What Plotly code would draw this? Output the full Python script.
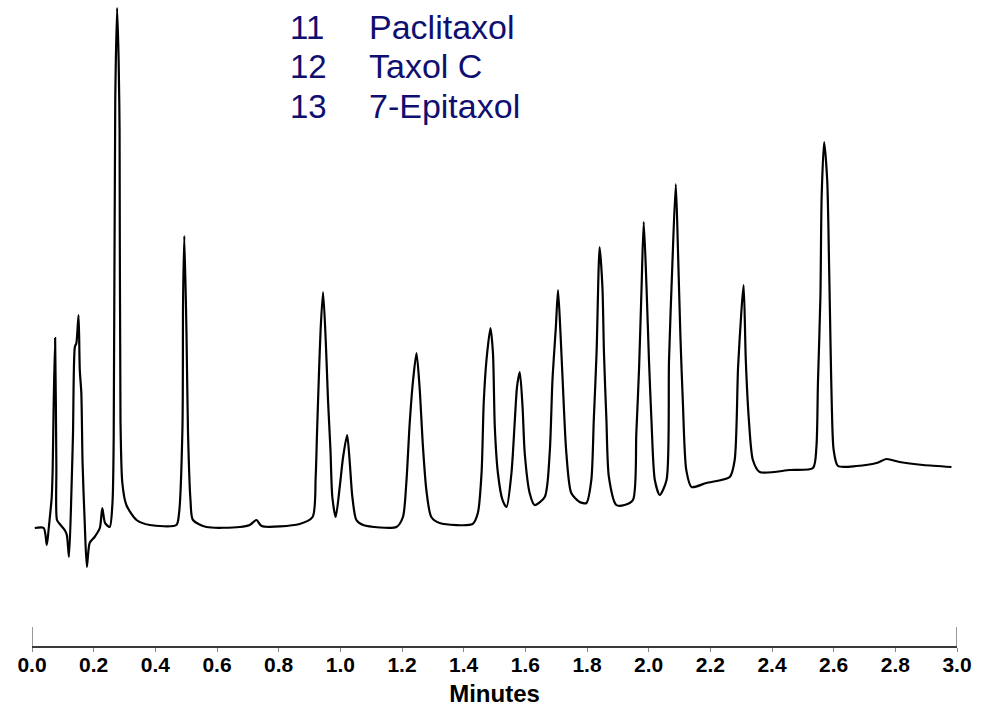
import plotly.graph_objects as go

# Chromatogram trace (time in minutes, detector signal in arbitrary units)
time_min = [
    0.009, 0.038, 0.048, 0.054, 0.057, 0.064, 0.067, 0.070, 0.075, 0.079,
    0.081, 0.090, 0.106, 0.113, 0.120, 0.128, 0.133, 0.139, 0.144, 0.151,
    0.155, 0.160, 0.164, 0.171, 0.178, 0.187, 0.203, 0.220, 0.228, 0.237,
    0.252, 0.261, 0.265, 0.270, 0.276, 0.281, 0.284, 0.287, 0.293, 0.306,
    0.339, 0.382, 0.468, 0.477, 0.488, 0.490, 0.494, 0.501, 0.506, 0.514,
    0.522, 0.566, 0.674, 0.706, 0.728, 0.745, 0.868, 0.910, 0.920, 0.924,
    0.930, 0.936, 0.944, 0.953, 0.960, 0.968, 0.974, 0.985, 0.998, 1.009,
    1.022, 1.030, 1.039, 1.052, 1.074, 1.182, 1.203, 1.214, 1.225, 1.236,
    1.247, 1.257, 1.268, 1.279, 1.295, 1.322, 1.429, 1.446, 1.458, 1.465,
    1.474, 1.487, 1.495, 1.501, 1.511, 1.526, 1.539, 1.555, 1.566, 1.573,
    1.582, 1.591, 1.598, 1.614, 1.630, 1.663, 1.679, 1.688, 1.699, 1.706,
    1.714, 1.722, 1.733, 1.749, 1.776, 1.798, 1.814, 1.822, 1.831, 1.841,
    1.850, 1.855, 1.863, 1.871, 1.895, 1.922, 1.949, 1.960, 1.969, 1.977,
    1.984, 1.993, 2.001, 2.009, 2.020, 2.036, 2.058, 2.066, 2.077, 2.088,
    2.095, 2.103, 2.111, 2.122, 2.139, 2.187, 2.263, 2.279, 2.290, 2.301,
    2.308, 2.315, 2.325, 2.338, 2.360, 2.458, 2.533, 2.544, 2.549, 2.557,
    2.561, 2.569, 2.579, 2.585, 2.590, 2.594, 2.600, 2.614, 2.674, 2.739,
    2.771, 2.814, 2.890, 2.982,
]
signal = [
    118, 118, 101, 117, 126, 149, 176, 236, 308, 179,
    126, 122, 116, 111, 89, 156, 213, 299, 303, 331,
    276, 253, 183, 123, 79, 103, 109, 118, 138, 123,
    119, 143, 209, 546, 638, 586, 516, 226, 163, 141,
    126, 121, 121, 133, 219, 346, 410, 313, 213, 146,
    126, 119, 119, 121, 126, 120, 122, 129, 169, 209,
    266, 316, 354, 303, 246, 196, 149, 129, 159, 189,
    211, 186, 149, 126, 121, 119, 129, 163, 223, 266,
    293, 259, 199, 156, 129, 123, 122, 133, 173, 243,
    286, 318, 293, 219, 173, 146, 139, 173, 226, 259,
    274, 239, 193, 153, 141, 149, 193, 266, 319, 356,
    313, 259, 193, 153, 144, 143, 166, 226, 293, 399,
    359, 293, 226, 169, 141, 141, 146, 213, 279, 359,
    424, 359, 286, 226, 166, 151, 166, 286, 383, 462,
    396, 309, 243, 176, 159, 163, 169, 186, 279, 336,
    361, 286, 226, 186, 174, 176, 178, 199, 263, 349,
    449, 504, 466, 383, 299, 239, 196, 180, 180, 183,
    187, 184, 181, 179,
]

tick_values = [0.0, 0.2, 0.4, 0.6, 0.8, 1.0, 1.2, 1.4, 1.6, 1.8, 2.0, 2.2, 2.4, 2.6, 2.8, 3.0]
tick_labels = ["0.0", "0.2", "0.4", "0.6", "0.8", "1.0", "1.2", "1.4", "1.6", "1.8",
               "2.0", "2.2", "2.4", "2.6", "2.8", "3.0"]

peak_numbers = ["11", "12", "13"]
compound_names = ["Paclitaxol", "Taxol C", "7-Epitaxol"]

FONT = "Liberation Sans, Arial, Helvetica, sans-serif"
NAVY = "#0f0f72"

fig = go.Figure()
fig.add_trace(go.Scatter(
    x=time_min, y=signal, mode="lines",
    line=dict(color="#000000", width=2.2, shape="spline", smoothing=0.7),
    hoverinfo="skip", showlegend=False, cliponaxis=False,
))

annotations = []
row_y = [619, 580, 540]
for num, name, yy in zip(peak_numbers, compound_names, row_y):
    annotations.append(dict(x=0.829, y=yy, xref="x", yref="y", text=num, showarrow=False,
                            xanchor="left", yanchor="middle",
                            font=dict(family=FONT, size=33, color=NAVY)))
    annotations.append(dict(x=1.085, y=yy, xref="x", yref="y", text=name, showarrow=False,
                            xanchor="left", yanchor="middle",
                            font=dict(family=FONT, size=34, color=NAVY)))

shapes = []
for xe in (tick_values[0], tick_values[-1]):
    shapes.append(dict(type="line", xref="x", yref="y", x0=xe, x1=xe, y0=0, y1=19,
                       line=dict(color="#555555", width=1.2)))

fig.update_layout(
    width=986, height=707,
    margin=dict(l=32, r=29, t=0, b=61, pad=0),
    paper_bgcolor="white", plot_bgcolor="white",
    annotations=annotations, shapes=shapes,
    xaxis=dict(
        range=[0, 3.0], tickmode="array", tickvals=tick_values, ticktext=tick_labels,
        showgrid=False, zeroline=False,
        showline=True, linecolor="#3a3a3a", linewidth=2,
        ticks="outside", ticklen=4, tickcolor="#888888", tickwidth=1,
        ticklabelstandoff=-5,
        tickfont=dict(family=FONT, size=21, color="#000000", weight="bold"),
        title=dict(text="Minutes", standoff=12,
                   font=dict(family=FONT, size=24, color="#000000", weight="bold")),
    ),
    yaxis=dict(range=[0, 646], visible=False, showgrid=False, zeroline=False),
    font=dict(family=FONT),
)

fig.write_html("out.html")
